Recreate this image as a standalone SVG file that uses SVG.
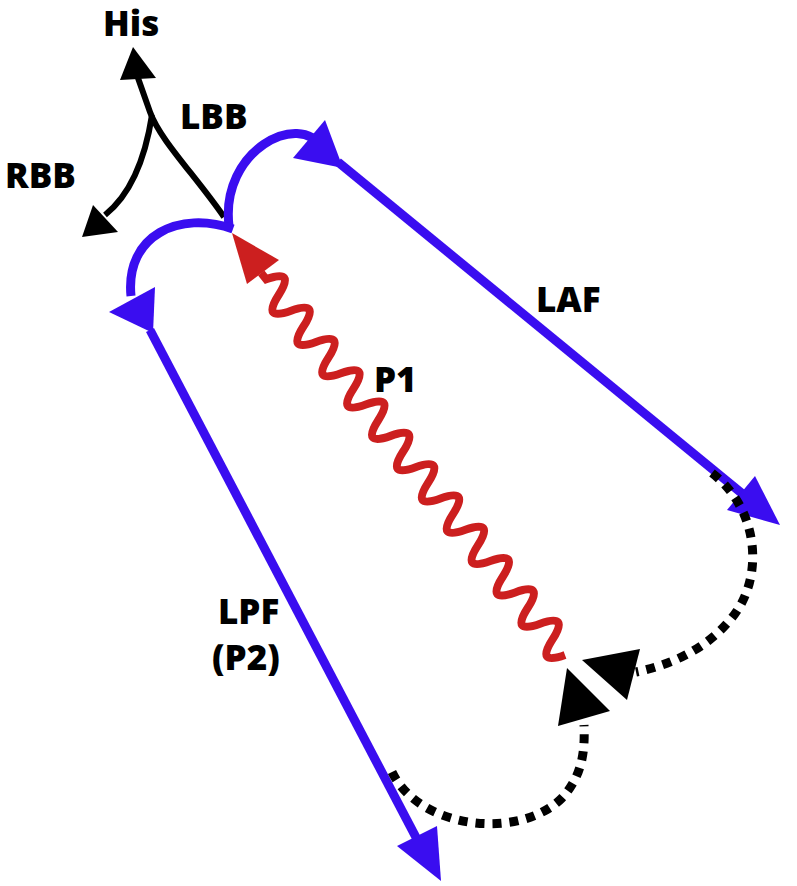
<svg xmlns="http://www.w3.org/2000/svg" width="797" height="886" viewBox="0 0 797 886">
<style>
.t{font-family:"Open Sans","DejaVu Sans",sans-serif;font-weight:800;font-size:35px;fill:#000}
.b{fill:none;stroke:#3a0df0;stroke-width:9}
.k{fill:none;stroke:#000;stroke-width:6}
.d{fill:none;stroke:#000;stroke-width:9;stroke-dasharray:9 8}
</style>
<rect width="797" height="886" fill="#fff"/>
<g id="connectors">
<path class="k" d="M224,217 C195,175 160,140 150,112 L138,78"/>
<polygon points="133,47 120,80 156,78" fill="#000"/>
<path class="k" d="M152,115 C145,160 130,195 105,215"/>
<polygon points="82,237 93,205 118,232" fill="#000"/>
<path class="b" d="M229,226 C220,150 300,110 322,148"/>
<polygon points="325,120 293,158 343,168" fill="#3a0df0"/>
<path class="b" d="M338,162 L750,500"/>
<polygon points="780,525 727,510 755,476" fill="#3a0df0"/>
<path class="b" d="M233,229 C180,210 125,235 131,296"/>
<polygon points="109,312 155,287 153,333" fill="#3a0df0"/>
<path class="b" d="M150,330 L420,845"/>
<polygon points="441,881 397,846 437,826" fill="#3a0df0"/>
<g transform="translate(565,655) rotate(-128.5)">
<path fill="none" stroke="#cc1f1f" stroke-width="8" d="M0,0 q10,-30 20,0 t20,0 t20,0 t20,0 t20,0 t20,0 t20,0 t20,0 t20,0 t20,0 t20,0 t20,0 t20,0 t20,0 t20,0 t20,0 t20,0 t20,0 t20,0 t20,0 t20,0 t20,0 t20,0 t20,0 l8,0"/>
</g>
<polygon points="232,233 279,260 247,284" fill="#cc1f1f"/>
<path class="d" d="M712,473 C760,510 765,580 730,620 C705,650 670,665 636,672"/>
<polygon points="582,660 640,649 627,700" fill="#000"/>
<path class="d" d="M392,772 C420,830 520,840 562,798 C583,775 585,750 584,725"/>
<polygon points="567,668 610,711 558,726" fill="#000"/>
</g>
<g id="labels">
<text class="t" x="103" y="36">His</text>
<text class="t" x="180" y="129">LBB</text>
<text class="t" x="5" y="188">RBB</text>
<text class="t" x="536" y="312">LAF</text>
<text class="t" x="374" y="392">P1</text>
<text class="t" x="218" y="624">LPF</text>
<text class="t" x="212" y="670">(P2)</text>
</g>
</svg>
